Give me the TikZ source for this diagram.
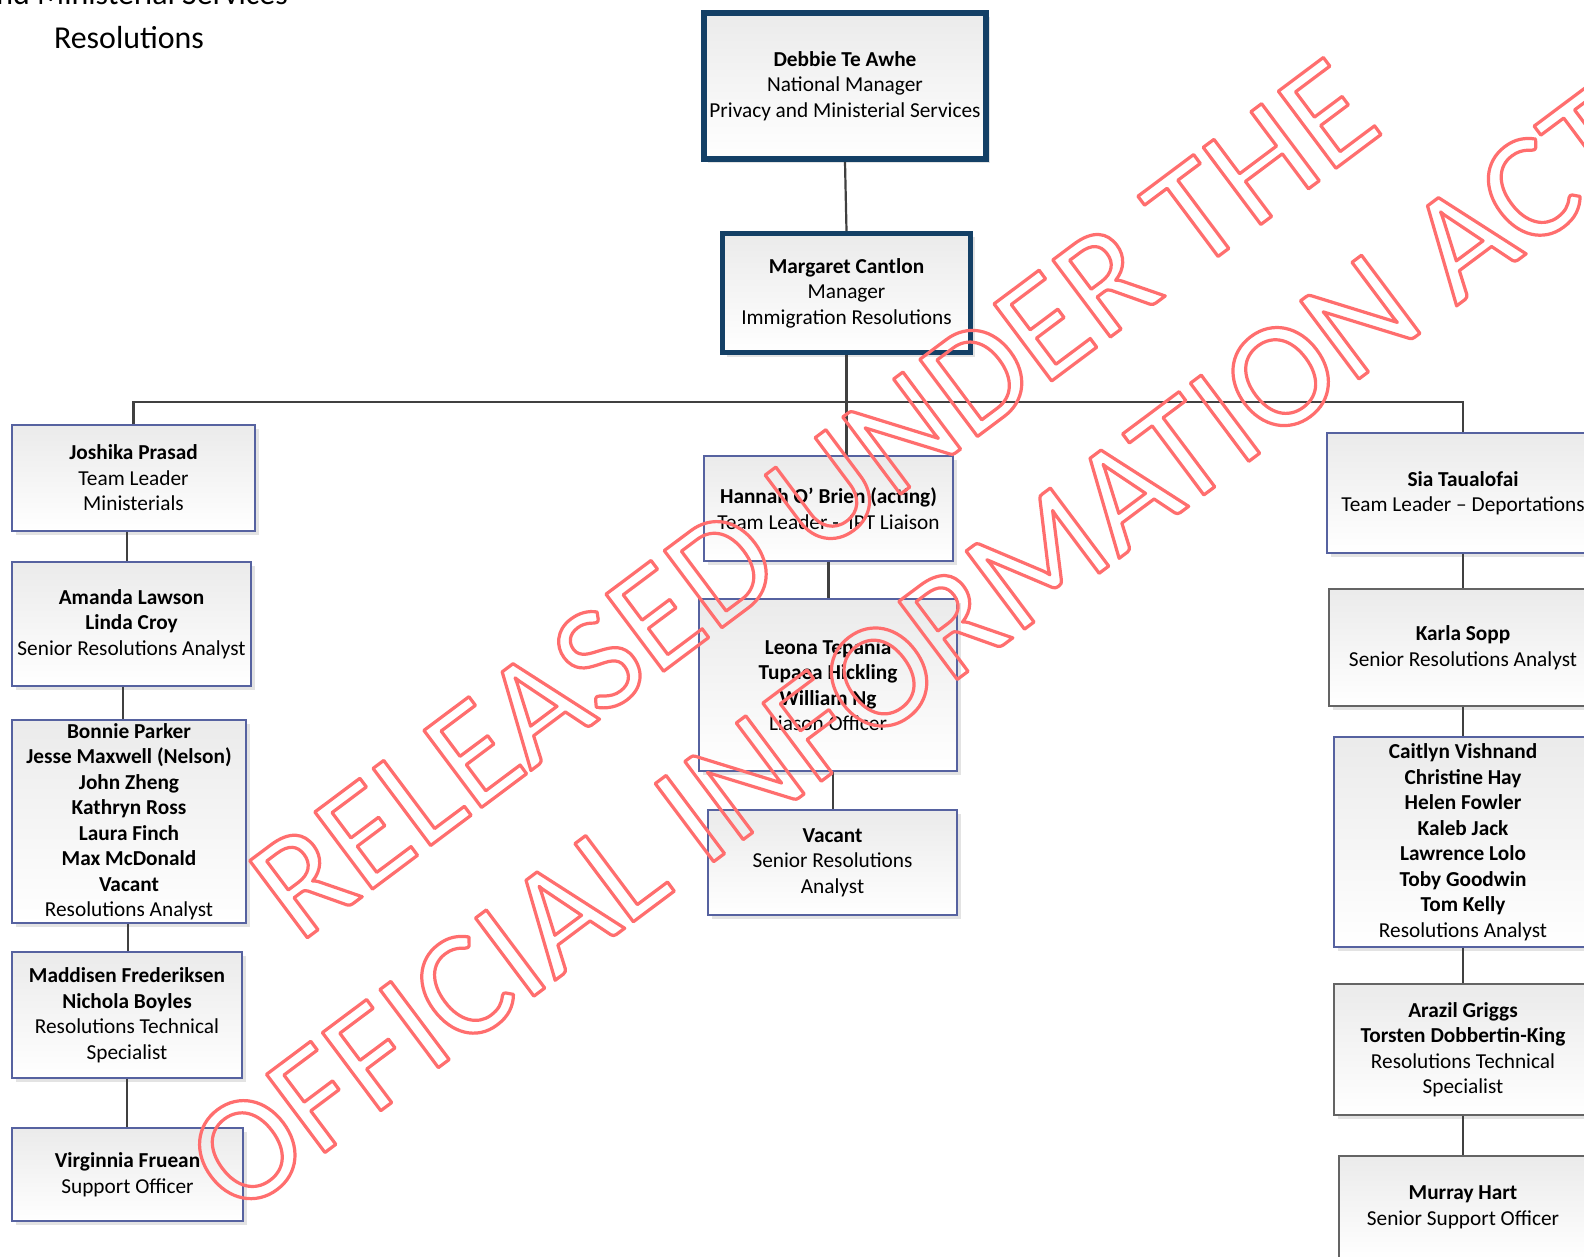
\documentclass[tikz,border=0pt]{standalone}
\usepackage{fontspec}
\setmainfont{Carlito}
\newfontfamily\wmfont{Carlito}
\usetikzlibrary{shadows}
\definecolor{navy}{RGB}{20,64,102}
\definecolor{bluebd}{RGB}{86,98,160}
\definecolor{graybd}{RGB}{100,100,100}
\definecolor{connc}{RGB}{64,64,64}
\definecolor{wmred}{RGB}{255,110,110}
\newcommand\bodyfont{\fontsize{21.3}{25.5}\selectfont}
\newcommand\outlineon{\special{pdf:literal direct 1 Tr 3.2 w 1 j}}
\newcommand\outlineoff{\special{pdf:literal direct 0 Tr}}
\tikzset{
  orgbox/.style={draw=bluebd, line width=1.1pt, top color=black!8, bottom color=white,
    drop shadow={shadow xshift=4pt, shadow yshift=-4pt, fill=black!11, opacity=1},
    align=center, inner sep=0pt, font=\bodyfont},
  graybox/.style={orgbox, draw=graybd},
  topbox/.style={orgbox, draw=navy},
  connline/.style={draw=connc, line width=2.2pt},
  wmtext/.style={rotate=36.8, anchor=base west, inner sep=0pt, text=wmred},
}
\begin{document}
\begin{tikzpicture}[x=1pt,y=-1pt]
\useasboundingbox (0,0) rectangle (1584,1257);
\clip (0,0) rectangle (1584,1257);
\fill[white] (0,0) rectangle (1584,1257);

% title
\node[anchor=base east, inner sep=0pt, font=\fontsize{31.9}{38}\selectfont] (t1) at (288,5) {Privacy and Ministerial Services};
\node[anchor=base, inner sep=0pt, font=\fontsize{31.9}{38}\selectfont] (t2) at (129,49) {Resolutions};

% top boxes
\node[topbox, line width=6pt, minimum width=282pt, minimum height=146pt] (debbie) at (845,86)
  {\textbf{Debbie Te Awhe}\\National Manager\\Privacy and Ministerial Services};
\node[topbox, line width=5pt, minimum width=248pt, minimum height=119pt] (margaret) at (846.5,293)
  {\textbf{Margaret Cantlon}\\Manager\\Immigration Resolutions};

% left column
\node[orgbox, minimum width=243pt, minimum height=106pt] (joshika) at (133.5,478)
  {\textbf{Joshika Prasad}\\Team Leader\\Ministerials};
\node[orgbox, minimum width=239pt, minimum height=124pt] (amanda) at (131.5,624)
  {\textbf{Amanda Lawson}\\\textbf{Linda Croy}\\Senior Resolutions Analyst};
\node[orgbox, minimum width=234pt, minimum height=203pt] (bonnie) at (129,821.5)
  {\textbf{Bonnie Parker}\\\textbf{Jesse Maxwell (Nelson)}\\\textbf{John Zheng}\\\textbf{Kathryn Ross}\\\textbf{Laura Finch}\\\textbf{Max McDonald}\\\textbf{Vacant}\\Resolutions Analyst};
\node[orgbox, minimum width=230pt, minimum height=126pt] (maddisen) at (127,1015)
  {\textbf{Maddisen Frederiksen}\\\textbf{Nichola Boyles}\\Resolutions Technical\\Specialist};
\node[orgbox, minimum width=231pt, minimum height=93pt] (virginnia) at (127.5,1174.5)
  {\textbf{Virginnia Fruean}\\Support Officer};

% middle column
\node[orgbox, minimum width=249pt, minimum height=105pt] (hannah) at (828.5,508.5)
  {\textbf{Hannah O’ Brien (acting)}\\Team Leader -\ \ IPT Liaison};
\node[orgbox, minimum width=258pt, minimum height=172pt] (leona) at (828,685)
  {\textbf{Leona Tepania}\\\textbf{Tupaea Hickling}\\\textbf{William Ng}\\Liason Officer};
\node[orgbox, minimum width=249pt, minimum height=105pt] (vacant) at (832.5,862.5)
  {\textbf{Vacant}\\Senior Resolutions\\Analyst};

% right column
\node[orgbox, minimum width=272pt, minimum height=120pt] (sia) at (1463,493)
  {\textbf{Sia Taualofai}\\Team Leader – Deportations};
\node[graybox, minimum width=268pt, minimum height=117pt] (karla) at (1463,647.5)
  {\textbf{Karla Sopp}\\Senior Resolutions Analyst};
\node[orgbox, minimum width=258pt, minimum height=210pt] (caitlyn) at (1463,842)
  {\textbf{Caitlyn Vishnand}\\\textbf{Christine Hay}\\\textbf{Helen Fowler}\\\textbf{Kaleb Jack}\\\textbf{Lawrence Lolo}\\\textbf{Toby Goodwin}\\\textbf{Tom Kelly}\\Resolutions Analyst};
\node[graybox, minimum width=258pt, minimum height=131pt] (arazil) at (1463,1049.5)
  {\textbf{Arazil Griggs}\\\textbf{Torsten Dobbertin-King}\\Resolutions Technical\\Specialist};
\node[graybox, minimum width=248pt, minimum height=103pt] (murray) at (1463,1207.5)
  {\textbf{Murray Hart}\\Senior Support Officer};

% connectors
\coordinate (bus) at (0,402);
\coordinate (xja) at (127,0);
\coordinate (xab) at (123,0);
\coordinate (xbm) at (128,0);
\coordinate (xmv) at (127,0);
\coordinate (xlv) at (833,0);
\draw[connline] (debbie.south) -- (margaret.north);
\draw[connline] (margaret.south) -- (margaret.south |- hannah.north);
\draw[connline] (joshika.north) -- (joshika.north |- bus) -- (sia.north |- bus) -- (sia.north);
\draw[connline] (joshika.south -| xja) -- (amanda.north -| xja);
\draw[connline] (amanda.south -| xab) -- (bonnie.north -| xab);
\draw[connline] (bonnie.south -| xbm) -- (maddisen.north -| xbm);
\draw[connline] (maddisen.south -| xmv) -- (virginnia.north -| xmv);
\draw[connline] (hannah.south) -- (hannah.south |- leona.north);
\draw[connline] (leona.south -| xlv) -- (vacant.north -| xlv);
\draw[connline] (sia.south) -- (karla.north);
\draw[connline] (karla.south) -- (caitlyn.north);
\draw[connline] (caitlyn.south) -- (arazil.north);
\draw[connline] (arazil.south) -- (murray.north);

% watermark
\node[wmtext, font=\wmfont\fontsize{150}{150}\selectfont] (wm1) at (298.6,944.3) {\outlineon RELEASED UNDER THE\outlineoff};
\node[wmtext, font=\wmfont\fontsize{152}{152}\selectfont] (wm2) at (236,1219) {\outlineon OFFICIAL INFORMATION ACT\outlineoff};
\end{tikzpicture}
\end{document}
